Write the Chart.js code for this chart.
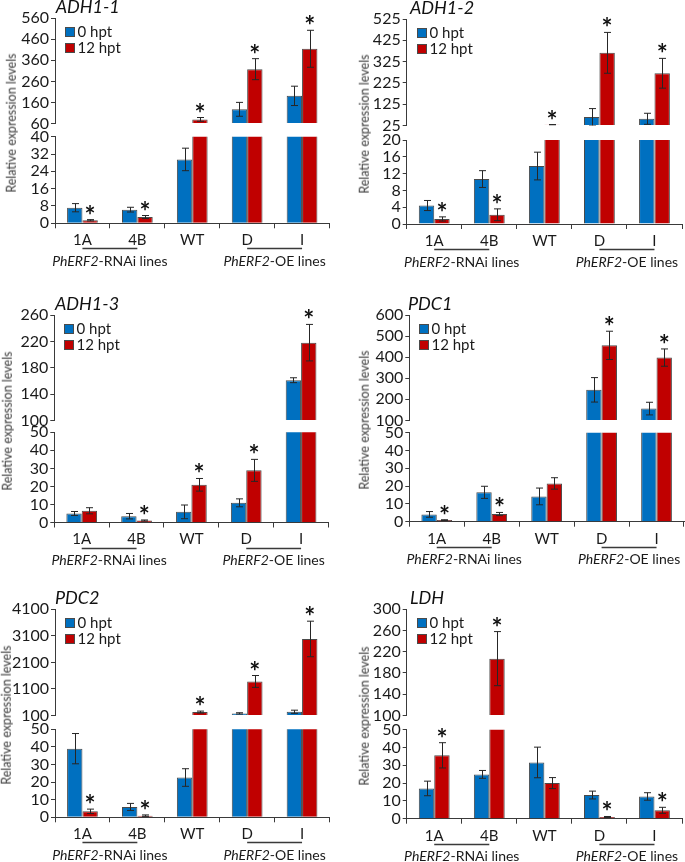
<!DOCTYPE html>
<html lang="en">
<head>
<meta charset="UTF-8"/>
<title>PhERF2 expression</title>
<script src="https://cdn.jsdelivr.net/npm/chart.js@4.4.0/dist/chart.umd.min.js"></script>
<style>
  body{margin:0;background:#fff;width:685px;height:862px;overflow:hidden;position:relative;font-family:Lato,sans-serif}
  canvas{position:absolute}
  .ttl{position:absolute;font-family:Lato;font-style:italic;font-weight:400;font-size:18px;color:#111;line-height:1;white-space:nowrap}
  .ytl{position:absolute;font-family:Lato;font-weight:400;font-size:12.5px;color:#3a3a3a;white-space:nowrap;line-height:1;transform:translate(-50%,-50%) rotate(-90deg)}
</style>
</head>
<body>
<script>
const lines = ['1A', '4B', 'WT', 'D', 'I'];
const seriesNames = ['0 hpt', '12 hpt'];
const groupItalic = ['PhERF2', 'PhERF2'];
const groupRest = ['-RNAi lines', '-OE lines'];
const groupFrom = [0, 3];
const groupTo = [1, 4];

// ADH1-1
const adh11_h0 = [7.2, 6.3, 29.5, 127, 191];
const adh11_h0Err = [1.9, 1.1, 5.2, 33, 46];
const adh11_h12 = [1.4, 2.9, 79, 318, 415];
const adh11_h12Err = [0.3, 0.7, 9, 50, 88];
const adh11_star = [1, 1, 1, 1, 1];
const adh11_upTicks = [60, 160, 260, 360, 460, 560];
const adh11_lowTicks = [0, 8, 16, 24, 32, 40];

// ADH1-2
const adh12_h0 = [4.4, 10.7, 13.8, 64, 56];
const adh12_h0Err = [1.2, 2.0, 3.3, 40, 26];
const adh12_h12 = [1.2, 2.2, 28, 366, 270];
const adh12_h12Err = [0.5, 1.4, 1, 96, 70];
const adh12_star = [1, 1, 1, 1, 1];
const adh12_upTicks = [25, 125, 225, 325, 425, 525];
const adh12_lowTicks = [0, 4, 8, 12, 16, 20];

// ADH1-3
const adh13_h0 = [5.0, 3.5, 5.9, 10.9, 161];
const adh13_h0Err = [1.1, 1.5, 3.8, 2.2, 3.7];
const adh13_h12 = [6.5, 1.1, 20.9, 28.9, 218];
const adh13_h12Err = [1.7, 0.3, 3.5, 6.1, 27.7];
const adh13_star = [0, 1, 1, 1, 1];
const adh13_upTicks = [100, 140, 180, 220, 260];
const adh13_lowTicks = [0, 10, 20, 30, 40, 50];

// PDC1
const pdc1_h0 = [4.1, 16.5, 14.2, 245, 156];
const pdc1_h0Err = [1.6, 3.4, 4.7, 58, 30];
const pdc1_h12 = [0.9, 4.3, 21.5, 456, 398];
const pdc1_h12Err = [0.2, 0.9, 3.2, 67, 41];
const pdc1_star = [1, 1, 0, 1, 1];
const pdc1_upTicks = [100, 200, 300, 400, 500, 600];
const pdc1_lowTicks = [0, 10, 20, 30, 40, 50];

// PDC2
const pdc2_h0 = [39.0, 5.9, 22.6, 175, 237];
const pdc2_h0Err = [8.6, 2.0, 5.0, 25, 60];
const pdc2_h12 = [3.4, 0.95, 225, 1380, 2982];
const pdc2_h12Err = [1.25, 0.4, 37, 224, 670];
const pdc2_star = [1, 1, 1, 1, 1];
const pdc2_upTicks = [100, 1100, 2100, 3100, 4100];
const pdc2_lowTicks = [0, 10, 20, 30, 40, 50];

// LDH
const ldh_h0 = [17.0, 24.9, 31.6, 13.3, 12.5];
const ldh_h0Err = [4.1, 2.2, 8.6, 2.2, 2.1];
const ldh_h12 = [35.6, 207, 20.0, 0.94, 4.7];
const ldh_h12Err = [7.1, 51, 3.1, 0.3, 1.7];
const ldh_star = [1, 1, 0, 1, 1];
const ldh_upTicks = [100, 140, 180, 220, 260, 300];
const ldh_lowTicks = [0, 10, 20, 30, 40, 50];

const panels = [
  {gene: 'ADH1-1', h0: adh11_h0, e0: adh11_h0Err, h12: adh11_h12, e12: adh11_h12Err, star: adh11_star, up: adh11_upTicks, low: adh11_lowTicks},
  {gene: 'ADH1-2', h0: adh12_h0, e0: adh12_h0Err, h12: adh12_h12, e12: adh12_h12Err, star: adh12_star, up: adh12_upTicks, low: adh12_lowTicks},
  {gene: 'ADH1-3', h0: adh13_h0, e0: adh13_h0Err, h12: adh13_h12, e12: adh13_h12Err, star: adh13_star, up: adh13_upTicks, low: adh13_lowTicks},
  {gene: 'PDC1', h0: pdc1_h0, e0: pdc1_h0Err, h12: pdc1_h12, e12: pdc1_h12Err, star: pdc1_star, up: pdc1_upTicks, low: pdc1_lowTicks},
  {gene: 'PDC2', h0: pdc2_h0, e0: pdc2_h0Err, h12: pdc2_h12, e12: pdc2_h12Err, star: pdc2_star, up: pdc2_upTicks, low: pdc2_lowTicks},
  {gene: 'LDH', h0: ldh_h0, e0: ldh_h0Err, h12: ldh_h12, e12: ldh_h12Err, star: ldh_star, up: ldh_upTicks, low: ldh_lowTicks}
];

// where each panel sits on the page (px): axis x, axis end, upper part top/bottom, lower part top/zero
const frames = [
  {px: 0,   x0: 55,    x1: 329.5, tT: 18.3,  tB: 125.3, bT: 136.7, b0: 223.3, tx: 55.7, yx: 11.7},
  {px: 345, x0: 406.7, x1: 682,   tT: 19,    tB: 126.7, bT: 140,   b0: 224,   tx: 410,  yx: 365},
  {px: 0,   x0: 54.3,  x1: 328.5, tT: 315,   tB: 421.7, bT: 432.3, b0: 522.5, tx: 55,   yx: 8.3},
  {px: 345, x0: 409.3, x1: 684,   tT: 315,   tB: 421.7, bT: 432.7, b0: 521.7, tx: 408,  yx: 365},
  {px: 0,   x0: 55,    x1: 329.5, tT: 609.3, tB: 716.7, bT: 729.3, b0: 817.3, tx: 55,   yx: 6.7},
  {px: 345, x0: 406.7, x1: 682,   tT: 609.3, tB: 717,   bT: 729.7, b0: 818.7, tx: 410,  yx: 365}
];

const BLUE = '#0070C0', RED = '#C00000', EDGE = '#4a4a4a', AX = '#3a3a3a', TXT = '#1a1a1a';
const PT = 14, PB = 10, XH = 50, PW = 340;

const errPlugin = {
  id: 'errs',
  afterDatasetsDraw(chart) {
    const {ctx, chartArea: a, scales: {y}} = chart;
    chart.data.datasets.forEach((ds, i) => {
      const meta = chart.getDatasetMeta(i);
      meta.data.forEach((bar, j) => {
        const v = ds.data[j];
        if (v == null || v > y.max) return;
        const e = ds.errs[j];
        const yh = y.getPixelForValue(v + e), yl = y.getPixelForValue(v - e);
        const x = Math.round(bar.x) + 0.5;
        ctx.save();
        ctx.beginPath();
        ctx.rect(a.left, a.top - 2, a.right - a.left, a.bottom - a.top + 2);
        ctx.clip();
        ctx.strokeStyle = '#262626';
        ctx.lineWidth = 1;
        ctx.beginPath();
        ctx.moveTo(x, yh); ctx.lineTo(x, yl);
        ctx.moveTo(x - 3.5, yh); ctx.lineTo(x + 3.5, yh);
        ctx.moveTo(x - 3.5, yl); ctx.lineTo(x + 3.5, yl);
        ctx.stroke();
        ctx.restore();
        if (ds.stars && ds.stars[j]) {
          ctx.save();
          ctx.font = 'bold 26px Lato';
          ctx.fillStyle = '#111';
          ctx.textAlign = 'center';
          ctx.textBaseline = 'alphabetic';
          const m = ctx.measureText('*');
          const cy = yh - 10;
          ctx.fillText('*', bar.x, cy + (m.actualBoundingBoxAscent - m.actualBoundingBoxDescent) / 2);
          ctx.restore();
        }
      });
    });
  }
};

const legendPlugin = {
  id: 'lg',
  afterDraw(chart) {
    const {ctx, chartArea: a} = chart;
    chart.data.datasets.forEach((ds, i) => {
      const cy = Math.round(a.top + 14 + i * 16);
      const sx = Math.round(a.left + 10) + 0.5;
      ctx.fillStyle = ds.backgroundColor;
      ctx.fillRect(sx, cy - 4.5, 9, 9);
      ctx.strokeStyle = EDGE;
      ctx.lineWidth = 1;
      ctx.strokeRect(sx, cy - 4.5, 9, 9);
      ctx.fillStyle = TXT;
      ctx.font = '15px Lato';
      ctx.textBaseline = 'middle';
      ctx.textAlign = 'left';
      ctx.fillText(ds.label, sx + 12, cy + 0.5);
    });
  }
};

const groupPlugin = {
  id: 'grp',
  afterDraw(chart) {
    const {ctx, chartArea: a, scales: {x}} = chart;
    groupFrom.forEach((f, k) => {
      const xa = x.getPixelForValue(f), xb = x.getPixelForValue(groupTo[k]);
      const ly = Math.round(a.bottom + 25) + 0.5;
      ctx.strokeStyle = AX;
      ctx.lineWidth = 1.3;
      ctx.beginPath(); ctx.moveTo(xa, ly); ctx.lineTo(xb, ly); ctx.stroke();
      ctx.fillStyle = TXT;
      ctx.textBaseline = 'middle';
      ctx.textAlign = 'left';
      ctx.font = 'italic 14px Lato';
      const wI = ctx.measureText(groupItalic[k]).width;
      ctx.font = '14px Lato';
      const wR = ctx.measureText(groupRest[k]).width;
      const sx = (xa + xb) / 2 - (wI + wR) / 2;
      const ty = a.bottom + 38;
      ctx.font = 'italic 14px Lato';
      ctx.fillText(groupItalic[k], sx, ty);
      ctx.font = '14px Lato';
      ctx.fillText(groupRest[k], sx + wI, ty);
    });
  }
};

function yScale(min, max, ticks, w) {
  return {
    min: min, max: max,
    afterBuildTicks: s => { s.ticks = ticks.map(v => ({value: v})); },
    afterFit: s => { s.width = w; },
    grid: {drawOnChartArea: false, drawTicks: true, tickLength: 4, color: AX},
    border: {color: AX, width: 1},
    ticks: {font: {family: 'Lato', size: 16}, color: TXT, padding: 2, autoSkip: false, callback: v => String(v)}
  };
}

function addCanvas(left, top, w, h) {
  const cv = document.createElement('canvas');
  cv.width = w; cv.height = h;
  cv.style.left = left + 'px'; cv.style.top = top + 'px';
  cv.style.width = w + 'px'; cv.style.height = h + 'px';
  document.body.appendChild(cv);
  return cv;
}

function addText(cls, txt, css) {
  const d = document.createElement('div');
  d.className = cls;
  d.textContent = txt;
  Object.assign(d.style, css);
  document.body.appendChild(d);
}

panels.forEach((p, k) => {
  const f = frames[k];
  const tmin = p.up[0], tmax = p.up[p.up.length - 1];
  const bmax = p.low[p.low.length - 1];
  const yw = f.x0 - f.px, padR = f.px + PW - f.x1;
  const bar = {borderColor: EDGE, borderWidth: 1, clip: 0};

  // upper (broken) part
  const topY = Math.round(f.tT - PT);
  const topH = Math.round(f.tB - topY + PB);
  new Chart(addCanvas(f.px, topY, PW, topH), {
    type: 'bar',
    data: {
      labels: lines,
      datasets: [
        Object.assign({label: seriesNames[0], data: p.h0.map(v => v > tmin ? v : null), errs: p.e0, base: tmin, backgroundColor: BLUE}, bar),
        Object.assign({label: seriesNames[1], data: p.h12.map(v => v > tmin ? v : null), errs: p.e12, stars: p.star, base: tmin, backgroundColor: RED}, bar)
      ]
    },
    options: {
      responsive: false, animation: false,
      layout: {padding: {left: 0, right: padR, top: f.tT - topY, bottom: topY + topH - f.tB}},
      datasets: {bar: {categoryPercentage: 0.56, barPercentage: 1}},
      plugins: {legend: {display: false}, tooltip: {enabled: false}},
      scales: {x: {display: false, offset: true}, y: yScale(tmin, tmax, p.up, yw)}
    },
    plugins: [errPlugin, legendPlugin]
  });

  // lower part with the category axis
  const botY = Math.round(f.bT - PT);
  const botH = Math.round(f.b0 - botY + XH);
  new Chart(addCanvas(f.px, botY, PW, botH), {
    type: 'bar',
    data: {
      labels: lines,
      datasets: [
        Object.assign({label: seriesNames[0], data: p.h0, errs: p.e0, backgroundColor: BLUE}, bar),
        Object.assign({label: seriesNames[1], data: p.h12, errs: p.e12, stars: p.star, backgroundColor: RED}, bar)
      ]
    },
    options: {
      responsive: false, animation: false,
      layout: {padding: {left: 0, right: padR, top: f.bT - botY, bottom: 0}},
      datasets: {bar: {categoryPercentage: 0.56, barPercentage: 1}},
      plugins: {legend: {display: false}, tooltip: {enabled: false}},
      scales: {
        x: {
          offset: true,
          grid: {offset: true, drawOnChartArea: false, drawTicks: true, tickLength: 5, color: AX},
          border: {color: AX, width: 1},
          ticks: {font: {family: 'Lato', size: 15}, color: TXT, padding: 3, maxRotation: 0},
          afterFit: s => { s.height = botY + botH - f.b0; }
        },
        y: yScale(0, bmax, p.low, yw)
      }
    },
    plugins: [errPlugin, groupPlugin]
  });

  addText('ttl', p.gene, {left: f.tx + 'px', top: (f.tT - 5 - 16) + 'px'});
  addText('ytl', 'Relative expression levels', {left: f.yx + 'px', top: ((f.tT + f.b0) / 2 + 2) + 'px'});
});
</script>
</body>
</html>
